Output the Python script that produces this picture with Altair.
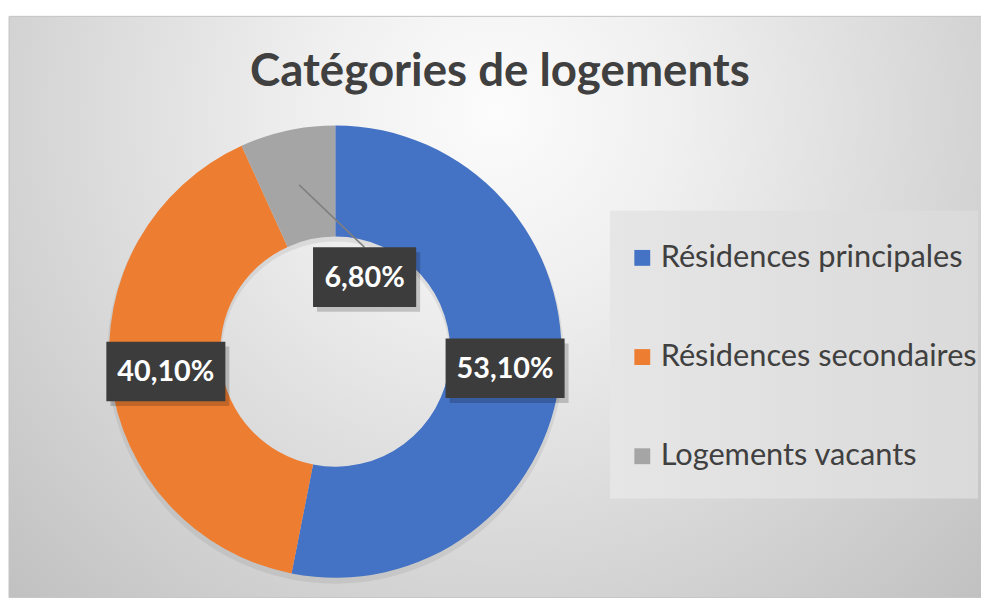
import altair as alt
import pandas as pd

# ---- data ----
categories = ["Résidences principales", "Résidences secondaires", "Logements vacants"]
values = [53.1, 40.1, 6.8]
colors = ["#4472C4", "#ED7D31", "#A5A5A5"]
title_text = "Catégories de logements"

df = pd.DataFrame({"category": categories, "value": values, "idx": list(range(len(categories)))})

# ---- layout constants (chart pixel coords; page = chart + 8) ----
W, H = 981, 590
CX, CY = 330, 344
R_OUT, R_IN = 228, 116
R_MID = (R_OUT + R_IN) / 2
MOVE_DX, MOVE_DY = 66, 93
BOX_H = 60
FONT = "Lato"

one = alt.Data(values=[{}])

background = alt.Chart(one).mark_rect(
    color=alt.RadialGradient(
        gradient="radial",
        x1=0.5, y1=0.3, x2=0.5, y2=0.3, r1=0, r2=0.78,
        stops=[alt.GradientStop(offset=0, color="#fcfcfc"),
               alt.GradientStop(offset=0.25, color="#efefef"),
               alt.GradientStop(offset=1, color="#bababa")],
    ),
    stroke="#c4c4c4", strokeWidth=1,
).encode(x=alt.value(1), x2=alt.value(W + 2), y=alt.value(6), y2=alt.value(H + 2))

legend_box = alt.Chart(one).mark_rect(
    color=alt.LinearGradient(
        gradient="linear", x1=0, y1=0, x2=1, y2=0,
        stops=[alt.GradientStop(offset=0, color="#e6e6e6"),
               alt.GradientStop(offset=1, color="#dadada")],
    )
).encode(x=alt.value(607), x2=alt.value(978), y=alt.value(202), y2=alt.value(492))

donut_shadow = alt.Chart(one).mark_arc(
    theta=0, theta2=6.2832, radius=R_OUT + 2, innerRadius=R_IN - 1,
    color="#7a7a7a", opacity=0.15,
).encode(x=alt.value(CX), y=alt.value(CY + 4))

base = alt.Chart(df)

donut = base.mark_arc(radius=R_OUT, innerRadius=R_IN).encode(
    theta=alt.Theta("value:Q", stack=True),
    order=alt.Order("idx:Q"),
    color=alt.Color(
        "category:N",
        scale=alt.Scale(domain=categories, range=colors),
        sort=categories,
        legend=alt.Legend(
            title=None, orient="none", legendX=624, legendY=234,
            symbolType="square", symbolSize=256, symbolStrokeWidth=0,
            labelFontSize=31, labelFont=FONT, labelColor="#404040",
            rowPadding=68, labelOffset=3, padding=0, labelLimit=500,
        ),
    ),
    x=alt.value(CX), y=alt.value(CY),
)

lab = base.transform_window(
    cum="sum(value)", sort=[alt.SortField("idx")], frame=[None, 0]
).transform_joinaggregate(total="sum(value)").transform_calculate(
    mid="(datum.cum - datum.value/2) / datum.total * 2 * PI",
    ax=f"{CX} + {R_MID} * sin(datum.mid)",
    ay=f"{CY} - {R_MID} * cos(datum.mid)",
    moved="datum.category == 'Logements vacants' ? 1 : 0",
    label="replace(format(datum.value / 100, '.2%'), '.', ',')",
).transform_calculate(
    lx=f"datum.ax + datum.moved * {MOVE_DX}",
    ly=f"datum.ay + datum.moved * {MOVE_DY}",
    w="length(datum.label) * 16 + 24",
).transform_calculate(
    bx0="datum.lx - datum.w / 2", bx1="datum.lx + datum.w / 2",
    by0=f"datum.ly - {BOX_H / 2}", by1=f"datum.ly + {BOX_H / 2}",
    sx0="datum.lx - datum.w / 2 + 4", sx1="datum.lx + datum.w / 2 + 4",
    sy0=f"datum.ly - {BOX_H / 2} + 5", sy1=f"datum.ly + {BOX_H / 2} + 5",
    ly2=f"datum.ly - {BOX_H / 2}",
)

leader = lab.transform_filter("datum.moved == 1").mark_rule(color="#7f7f7f", strokeWidth=1.5).encode(
    x=alt.X("ax:Q", scale=None), y=alt.Y("ay:Q", scale=None),
    x2="lx:Q", y2="ly2:Q",
)

box_shadow = lab.mark_rect(color="#000000", opacity=0.18).encode(
    x=alt.X("sx0:Q", scale=None), x2="sx1:Q",
    y=alt.Y("sy0:Q", scale=None), y2="sy1:Q",
)

boxes = lab.mark_rect(color="#3c3c3c").encode(
    x=alt.X("bx0:Q", scale=None), x2="bx1:Q",
    y=alt.Y("by0:Q", scale=None), y2="by1:Q",
)

texts = lab.mark_text(
    font=FONT, fontSize=29, fontWeight="bold", color="#ffffff",
    align="center", baseline="middle", dy=1,
).encode(
    x=alt.X("lx:Q", scale=None), y=alt.Y("ly:Q", scale=None), text="label:N",
)

title = alt.Chart(one).mark_text(
    text=title_text, font=FONT, fontSize=46, fontWeight="bold", color="#404040",
    align="center", baseline="alphabetic",
).encode(x=alt.value(496), y=alt.value(76))

chart = alt.layer(
    background, legend_box, donut_shadow, donut, leader, box_shadow, boxes, texts, title
).properties(
    width=W, height=H, autosize=alt.AutoSizeParams(type="none"), padding=0,
).configure_view(stroke=None)

chart.save("out.html", embed_options={"renderer": "svg", "actions": False})
